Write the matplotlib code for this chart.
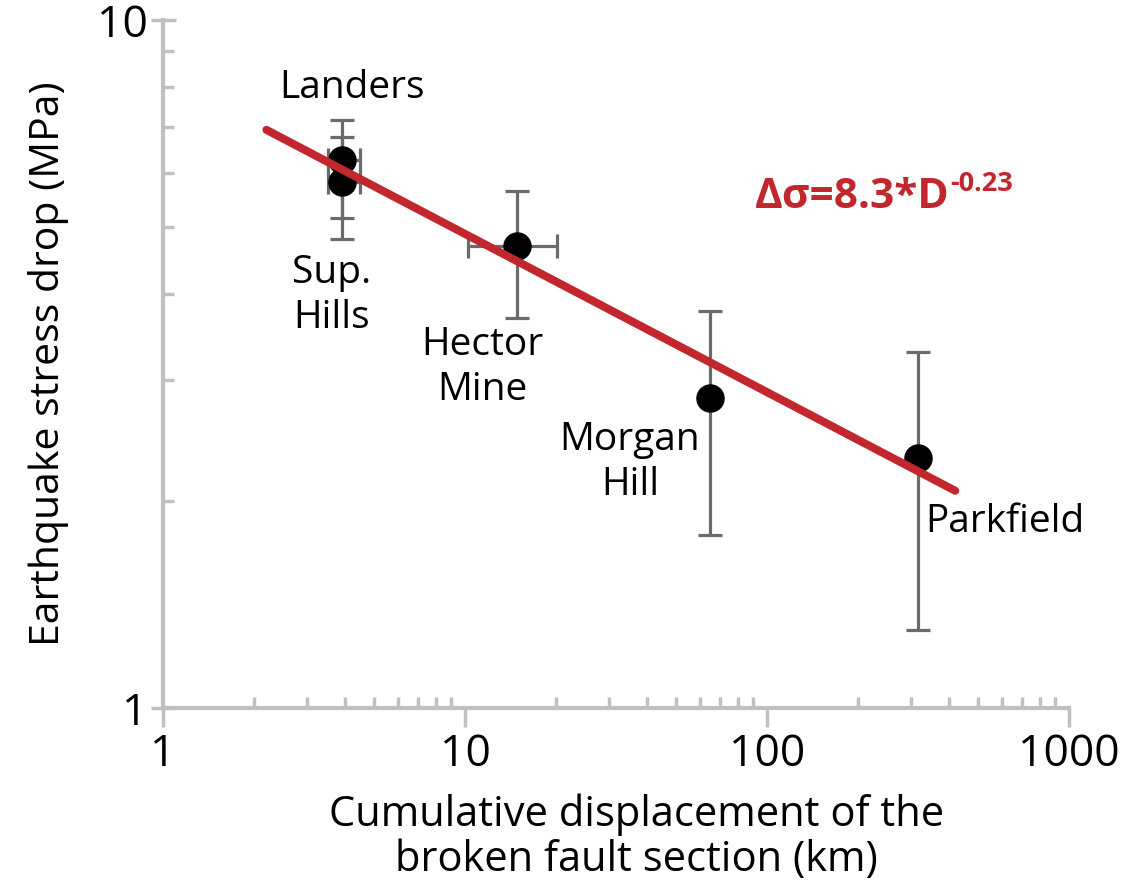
import numpy as np
import matplotlib
matplotlib.use("Agg")
import matplotlib.pyplot as plt
from matplotlib.ticker import LogLocator, NullFormatter, FixedLocator, FixedFormatter

plt.rcParams['font.family'] = ['Open Sans', 'DejaVu Sans']

# Earthquake data: cumulative fault displacement (km) vs stress drop (MPa)
events = ["Landers", "Sup.\nHills", "Hector\nMine", "Morgan\nHill", "Parkfield"]
displacement = [3.9, 3.9, 14.9, 64.7, 316.0]
disp_low = [3.52, 3.52, 10.2, 64.7, 316.0]
disp_high = [4.49, 4.49, 20.2, 64.7, 316.0]
stress_drop = [6.26, 5.82, 4.69, 2.82, 2.31]
stress_low = [5.16, 4.81, 3.69, 1.785, 1.30]
stress_high = [7.16, 6.76, 5.64, 3.78, 3.29]

# Power-law fit  Δσ = a * D^b
fit_a = 8.3
fit_b = -0.23
fit_range = [2.2, 420.0]

# label offsets from each point (pixels)
label_offsets = [(10, 72), (-10, -114), (-35, -121), (-80, -64), (87, -64)]

x_ticks = [1, 10, 100, 1000]
x_ticklabels = ["1", "10", "100", "1000"]
y_ticks = [1, 10]
y_ticklabels = ["1", "10"]

red = "#c1272d"
grey_err = "#6b6b6b"
grey_axis = "#c0c0c0"

fig = plt.figure(figsize=(11.23, 8.82), dpi=100)
ax = fig.add_axes([163 / 1123, 1 - 708 / 882, 906 / 1123, 688 / 882])
ax.set_xscale("log")
ax.set_yscale("log")
ax.set_xlim(1, 1000)
ax.set_ylim(1, 10)

x = np.array(displacement)
y = np.array(stress_drop)
xerr = np.vstack([x - np.array(disp_low), np.array(disp_high) - x])
yerr = np.vstack([y - np.array(stress_low), np.array(stress_high) - y])

ax.errorbar(x, y, xerr=xerr, yerr=yerr, fmt="none", ecolor=grey_err,
            elinewidth=2.3, capsize=8.5, capthick=2.3, zorder=2)
ax.plot(x, y, "o", color="black", markersize=19.5, zorder=3)

d = np.logspace(np.log10(fit_range[0]), np.log10(fit_range[1]), 200)
ax.plot(d, fit_a * d ** fit_b, color=red, linewidth=5.8,
        solid_capstyle="round", zorder=4)

for name, xi, yi, off in zip(events, x, y, label_offsets):
    ax.annotate(name, xy=(xi, yi), xytext=off, textcoords="offset pixels",
                ha="center", va="center", fontsize=28, color="black",
                multialignment="center", linespacing=1.25)

eq = ax.text(0.653, 0.727, "Δσ=8.3*D", transform=ax.transAxes,
             fontsize=30.5, fontweight="bold", color=red, ha="left",
             va="baseline")
ax.annotate("-0.23", xy=(1.0, 1.0), xycoords=eq, xytext=(1, 6),
            textcoords="offset pixels", fontsize=19.5, fontweight="bold",
            color=red, ha="left", va="top")

# Axes styling
for side in ["top", "right"]:
    ax.spines[side].set_visible(False)
for side in ["left", "bottom"]:
    ax.spines[side].set_color(grey_axis)
    ax.spines[side].set_linewidth(3)

ax.xaxis.set_major_locator(FixedLocator(x_ticks))
ax.xaxis.set_major_formatter(FixedFormatter(x_ticklabels))
ax.yaxis.set_major_locator(FixedLocator(y_ticks))
ax.yaxis.set_major_formatter(FixedFormatter(y_ticklabels))
ax.xaxis.set_minor_locator(LogLocator(base=10, subs=np.arange(2, 10)))
ax.yaxis.set_minor_locator(LogLocator(base=10, subs=np.arange(2, 10)))
ax.xaxis.set_minor_formatter(NullFormatter())
ax.yaxis.set_minor_formatter(NullFormatter())

ax.tick_params(axis="x", which="major", direction="out", length=14, width=2.5,
               color=grey_axis, labelsize=32, pad=4)
ax.tick_params(axis="y", which="major", direction="inout", length=18, width=2.5,
               color=grey_axis, labelsize=32, pad=2)
ax.tick_params(which="minor", direction="in", length=8, width=2.5,
               color=grey_axis)

ax.set_xlabel("Cumulative displacement of the\nbroken fault section (km)",
              fontsize=30, linespacing=1.1, labelpad=10)
ax.xaxis.set_label_coords(0.523, -0.124)
ax.xaxis.label.set_va("top")
ax.set_ylabel("Earthquake stress drop (MPa)", fontsize=29.5, labelpad=20)

fig.savefig("out.png", dpi=100)
